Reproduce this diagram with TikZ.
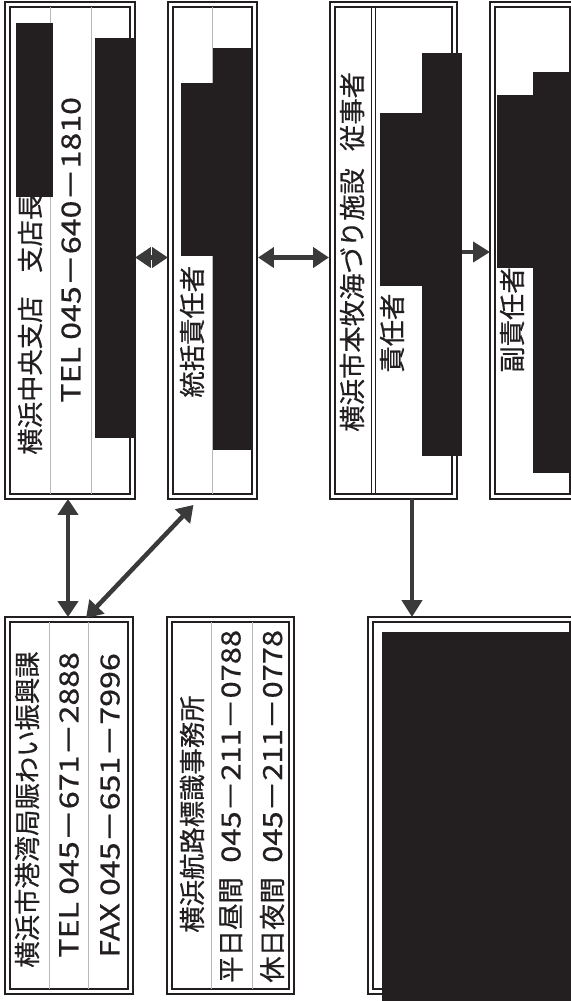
\documentclass[tikz,border=0pt]{standalone}
\usepackage{fontspec}
\setmainfont{Noto Sans CJK JP}[BoldFont=Noto Sans CJK JP, BoldFeatures={FakeBold=0.5}]
\usepackage{tikz}
\usepackage{tkz-euclide}
\usepackage{xcolor}
\usetikzlibrary{arrows.meta,calc}

\definecolor{tinta}{HTML}{231F20}
\definecolor{seta}{HTML}{3A3A3A}
\definecolor{linha}{HTML}{B8B8B8}

\newcommand{\largo}[2][1.22]{\scalebox{#1}[1]{#2}}
\newcommand{\vao}[1][0.55em]{\hspace{#1}}

\tikzset{
  caixa/.style={draw=tinta, double, double distance=0.07cm, line width=0.03cm, inner sep=0pt, outer sep=0.05cm},
  tarja/.style={fill=tinta},
  divisao/.style={draw=linha, line width=0.02cm},
  divdupla/.style={draw=tinta, line width=0.03cm},
  rotulo/.style={rotate=90, anchor=west, inner sep=0pt, text=tinta, font=\fontsize{15pt}{18pt}\selectfont\bfseries},
  setadupla/.style={draw=seta, line width=0.09cm, {Triangle[length=0.32cm,width=0.4cm]}-{Triangle[length=0.32cm,width=0.4cm]}},
  setasimples/.style={draw=seta, line width=0.09cm, -{Triangle[length=0.34cm,width=0.4cm]}}
}

\begin{document}
\begin{tikzpicture}[x=0.02cm, y=-0.02cm] % 1 unidade = 1 pixel da figura, y para baixo

\useasboundingbox[fill=white] (0,0) rectangle (571,1001);

% centros das caixas e inicio dos rotulos (x/y/Nome)
\tkzDefPoints{
70/250.5/cA,
212.5/250.5/cB,
393.5/250.5/cC,
532.5/250.5/cD,
471.5/805.5/cE,
69/805.5/cF,
230.5/805.5/cG,
30/455/tA1,
71/403/tA2,
192/398/tB1,
352/432/tC1,
392/373/tC2,
512/373/tD1,
27/968/tF1,
69/958/tF2,
110/958/tF3,
192/933/tG1,
231/983/tG2,
272/983/tG3}

% caixas de moldura dupla
%---------------------------------------------------
\node[caixa, minimum width=2.5cm,  minimum height=9.84cm] (caixaA) at (cA) {};
\node[caixa, minimum width=1.68cm, minimum height=9.84cm] (caixaB) at (cB) {};
\node[caixa, minimum width=2.44cm, minimum height=9.84cm] (caixaC) at (cC) {};
\node[caixa, minimum width=1.6cm,  minimum height=9.84cm] (caixaD) at (cD) {};
\node[caixa, minimum width=4.04cm, minimum height=7.44cm] (caixaE) at (cE) {};
\node[caixa, minimum width=2.46cm, minimum height=7.44cm] (caixaF) at (cF) {};
\node[caixa, minimum width=2.44cm, minimum height=7.44cm] (caixaG) at (cG) {};
%---------------------------------------------------

% linhas entre as colunas de texto
%---------------------------------------------------
\draw[divisao] (50,7) -- (50,494);
\draw[divisao] (91,7) -- (91,494);
\draw[divisao] (212,7) -- (212,494);
\draw[divdupla] (371.5,7) -- (371.5,494);
\draw[divdupla] (375.5,7) -- (375.5,494);
\draw[divisao] (49,622) -- (49,989);
\draw[divisao] (88,622) -- (88,989);
\draw[divisao] (211,622) -- (211,989);
\draw[divisao] (252,622) -- (252,989);
%---------------------------------------------------

% rotulos
%---------------------------------------------------
\node[rotulo] (lA1) at (tA1) {横浜中央支店\vao[0.9em]支店長};
\node[rotulo] (lA2) at (tA2) {\largo{TEL 045－640－1810}};
\node[rotulo] (lB1) at (tB1) {統括責任者};
\node[rotulo] (lC1) at (tC1) {横浜市本牧海づり施設\vao[0.65em]従事者};
\node[rotulo] (lC2) at (tC2) {責任者};
\node[rotulo] (lD1) at (tD1) {副責任者};
\node[rotulo] (lF1) at (tF1) {横浜市港湾局賑わい振興課};
\node[rotulo] (lF2) at (tF2) {\largo{TEL 045－671－2888}};
\node[rotulo] (lF3) at (tF3) {\largo{FAX 045－651－7996}};
\node[rotulo] (lG1) at (tG1) {横浜航路標識事務所};
\node[rotulo] (lG2) at (tG2) {平日昼間\vao\largo[1.17]{045－211－0788}};
\node[rotulo] (lG3) at (tG3) {休日夜間\vao\largo[1.17]{045－211－0778}};
%---------------------------------------------------

% tarjas pretas
%---------------------------------------------------
\fill[tarja] (16,23) rectangle (53,197);
\fill[tarja] (95,38) rectangle (135,438);
\fill[tarja] (181,83) rectangle (213,256);
\fill[tarja] (213,48) rectangle (253,450);
\fill[tarja] (380,113) rectangle (422,286);
\fill[tarja] (422,53) rectangle (462,456);
\fill[tarja] (497,95) rectangle (533,268);
\fill[tarja] (533,72) rectangle (571,473);
\fill[tarja] (382,632) rectangle (571,1001);
%---------------------------------------------------

% setas
%---------------------------------------------------
\draw[setadupla] ($(caixaA.east)+(0,7)$) -- ($(caixaB.west)+(0,7)$);
\draw[setadupla] ($(caixaB.east)+(1,7)$) -- ($(caixaC.west)+(-1,7)$);
\draw[setasimples] ($(caixaC.east)+(5,1.5)$) -- ($(caixaD.west)+(0,1.5)$);
\draw[setasimples] ($(caixaC.south)+(18.5,0)$) coordinate (pC) -- (pC |- caixaE.north);
\draw[setadupla] ($(caixaA.south)+(-2,0)$) coordinate (pA) -- (pA |- caixaF.north);
\draw[setadupla] ($(caixaB.south)+(-19,6)$) -- ($(caixaF.north)+(17,1)$);
%---------------------------------------------------

\end{tikzpicture}
\end{document}
